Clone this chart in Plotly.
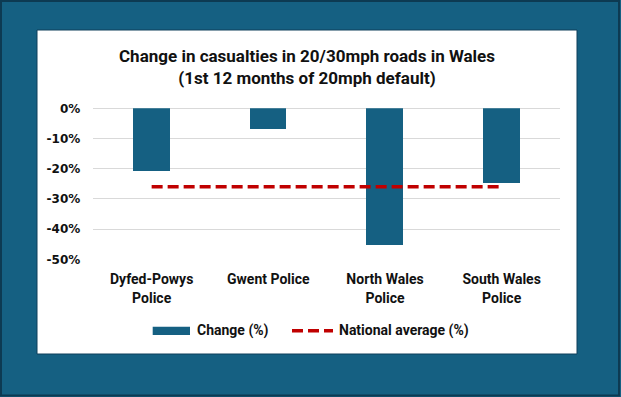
import plotly.graph_objects as go

W, H = 621, 397

categories = ["Dyfed-Powys Police", "Gwent Police", "North Wales Police", "South Wales Police"]
category_labels = ["Dyfed-Powys<br>Police", "Gwent Police", "North Wales<br>Police", "South Wales<br>Police"]
change_pct = [-21.0, -6.9, -45.3, -24.8]
national_avg_pct = [-26.0, -26.0, -26.0, -26.0]
y_ticks = [0, -10, -20, -30, -40, -50]
y_tick_labels = ["0%", "-10%", "-20%", "-30%", "-40%", "-50%"]

TEAL = "#156082"
RED = "#C00000"
DARK = "#0D3A52"
TXT = "#111111"
FONT = "Roboto, Arial, sans-serif"
FONT_TICK = "DejaVu Sans, Verdana, sans-serif"


def px(x):
    return x / W


def py(y):
    return 1 - y / H


fig = go.Figure()
fig.add_trace(go.Bar(
    x=categories, y=change_pct, name="Change (%)",
    marker=dict(color=TEAL, line=dict(width=0)), width=0.315,
    showlegend=False,
))
fig.add_trace(go.Scatter(
    x=categories, y=national_avg_pct, name="National average (%)", mode="lines",
    line=dict(color=RED, width=3.5, dash="11px,5px"), showlegend=False,
))

shapes = [
    dict(type="rect", xref="paper", yref="paper", x0=px(37), x1=px(577), y0=py(354), y1=py(30),
         fillcolor="white", line=dict(color="#0E3F5A", width=1), layer="below"),
    dict(type="rect", xref="paper", yref="paper", x0=px(1), x1=px(619), y0=py(395.5), y1=py(1),
         fillcolor="rgba(0,0,0,0)", line=dict(color=DARK, width=2), layer="above"),
    dict(type="rect", xref="paper", yref="paper", x0=px(152.7), x1=px(190), y0=py(335), y1=py(326.7),
         fillcolor=TEAL, line=dict(width=0)),
    dict(type="line", xref="paper", yref="paper", x0=px(292), x1=px(333), y0=py(330.7), y1=py(330.7),
         line=dict(color=RED, width=3.5, dash="11px,5px")),
]

annotations = [
    dict(text="Change in casualties in 20/30mph roads in Wales<br>(1st 12 months of 20mph default)",
         xref="paper", yref="paper", x=px(307), y=py(66.7), xanchor="center", yanchor="middle",
         showarrow=False, font=dict(family=FONT, size=17, color=TXT, weight="bold")),
    dict(text="Change (%)", xref="paper", yref="paper", x=px(195), y=py(330.7), xanchor="left",
         yanchor="middle", showarrow=False, font=dict(family=FONT, size=14, color=TXT, weight="bold")),
    dict(text="National average (%)", xref="paper", yref="paper", x=px(337), y=py(330.7), xanchor="left",
         yanchor="middle", showarrow=False, font=dict(family=FONT, size=14, color=TXT, weight="bold")),
]

fig.update_layout(
    width=W, height=H, autosize=False,
    margin=dict(l=0, r=0, t=0, b=0, pad=0, autoexpand=False),
    paper_bgcolor=TEAL,
    plot_bgcolor="white",
    showlegend=False,
    xaxis=dict(
        domain=[px(93.3), px(560)], automargin=False,
        tickvals=categories, ticktext=category_labels,
        showgrid=False, showline=False, zeroline=False,
        tickfont=dict(family=FONT, size=14, color=TXT, weight="bold"),
        ticklabelstandoff=10,
    ),
    yaxis=dict(
        domain=[py(259.3), py(108.3)], automargin=False,
        range=[-50, 0], tickvals=y_ticks, ticktext=y_tick_labels,
        showgrid=True, gridcolor="#D9D9D9", gridwidth=1,
        zeroline=True, zerolinecolor="#D9D9D9", zerolinewidth=1,
        showline=False,
        tickfont=dict(family=FONT_TICK, size=12, color=TXT, weight="bold"),
        ticklabelstandoff=12,
    ),
    shapes=shapes,
    annotations=annotations,
    bargap=0,
)

fig.write_html(
    "out.html",
    config={"displayModeBar": False},
    post_script="document.documentElement.style.margin='0';document.body.style.margin='0';"
                "document.documentElement.style.overflow='hidden';document.body.style.overflow='hidden';",
)
